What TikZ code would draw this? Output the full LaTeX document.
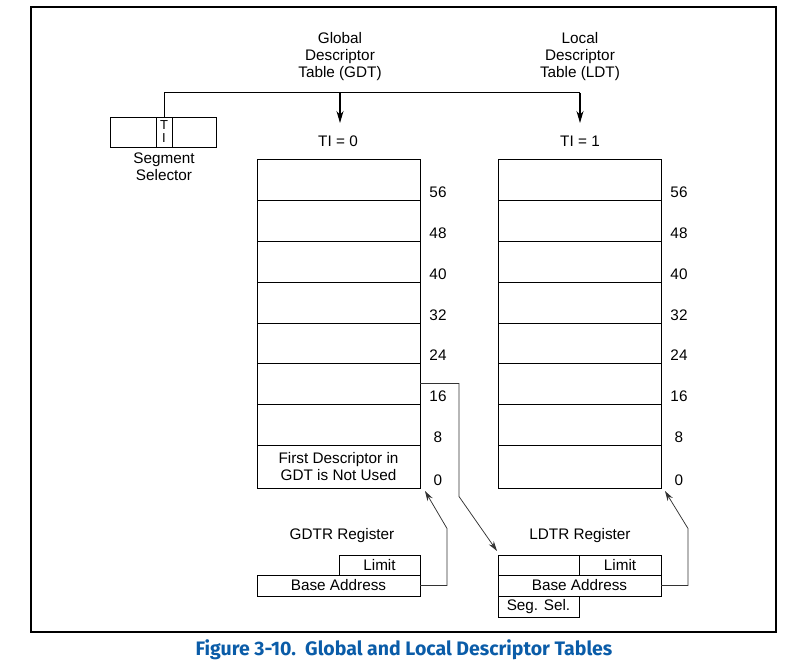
\documentclass[tikz,border=0pt]{standalone}
\usepackage{fontspec}
\setmainfont{Liberation Sans}
\newfontfamily\capfont{Fira Sans}
\usetikzlibrary{arrows.meta,calc}
\definecolor{capblue}{HTML}{0A5CA8}
\begin{document}
\begin{tikzpicture}[x=1pt,y=-1pt,
  every node/.style={font=\fontsize{15.3}{17}\selectfont, inner sep=0pt},
  row/.style={draw, line width=0.9pt, minimum width=163pt, outer sep=0pt},
  regbox/.style={draw, line width=0.9pt, outer sep=0pt},
  num/.style={anchor=center},
  conn/.style={line width=0.75pt, draw=black!80, -{Stealth[length=10pt,width=6pt]}},
  bigarrow/.style={line width=1.1pt, -{Stealth[length=12pt,width=7pt]}},
  title/.style={align=center, font=\fontsize{15.3}{17}\selectfont}]
\useasboundingbox (0,0) rectangle (807,666);
\draw[line width=1.3pt] (31,7) rectangle (776,632);

% titles
\node[title] (gdttitle) at (340,57) {Global\\Descriptor\\Table (GDT)};
\node[title] (ldttitle) at (580,57) {Local\\Descriptor\\Table (LDT)};

% segment selector
\node[regbox, minimum width=46pt, minimum height=30pt] (selL) at (133,132) {};
\node[regbox, minimum width=16pt, minimum height=30pt, align=center, font=\fontsize{13}{13}\selectfont] (ti) at (164,132) {T\\I};
\node[regbox, minimum width=44pt, minimum height=30pt] (selR) at (194,132) {};
\node[title] (segsel) at (164,167) {Segment\\Selector};

\node (ti0) at (338,141) {TI = 0};
\node (ti1) at (580,141) {TI = 1};
\coordinate (corner) at (580,93);
\coordinate (tipg) at (340,123);
\coordinate (tipl) at (580,123);
\draw[line width=1pt] (ti.north) |- (corner);
\draw[bigarrow] (tipg |- corner) -- (tipg);
\draw[bigarrow] (corner) -- (tipl);

% tables
\foreach \n/\y/\h/\v in {7/179.5/41/56, 6/220.5/41/48, 5/261.5/41/40, 4/302.5/41/32, 3/343/40/24, 2/383.5/41/16, 1/424.5/41/8, 0/466.5/43/0} {
  \node[row, minimum height=\h pt] (g\n) at (338.5,\y) {};
  \node[row, minimum height=\h pt] (l\n) at (579.5,\y) {};
  \node[num] at ($(g\n.south east)+(18,-8)$) {\v};
  \node[num] at ($(l\n.south east)+(18,-8)$) {\v};
}
\node[align=center, font=\fontsize{15.3}{17}\selectfont] (unused) at (g0) {First Descriptor in\\GDT is Not Used};

% GDTR
\node (gdtrlbl) at (342,536) {GDTR Register};
\node[regbox, minimum width=81pt, minimum height=20pt] (glimit) at (379.5,565) {Limit};
\node[regbox, minimum width=163pt, minimum height=21pt] (gbase) at (338.5,585.5) {Base Address};

% LDTR
\node (ldtrlbl) at (580,536) {LDTR Register};
\node[regbox, minimum width=81pt, minimum height=20pt] (lblank) at (538.5,565) {};
\node[regbox, minimum width=82pt, minimum height=20pt] (llimit) at (620,565) {Limit};
\node[regbox, minimum width=163pt, minimum height=21pt] (lbase) at (579.5,585.5) {Base Address};
\node[regbox, minimum width=81pt, minimum height=21pt] (lsel) at (538.5,606.5) {Seg. Sel.};

% connectors
\draw[conn] (gbase.east) -- ++(27,0) -- ++(0,-57) -- ($(g0.south east)+(5,3)$);
\draw[conn] (lbase.east) -- ++(27,0) -- ++(0,-57) -- ($(l0.south east)+(4,3)$);
\draw[conn] (g2.east) -- ++(39,0) -- ++(0,113) -- ($(lblank.north west)+(-1,-4)$);

% caption
\node[font=\capfont\bfseries\fontsize{19.5}{22}\selectfont, text=capblue] (caption) at (404,650) {Figure 3-10.\ \ Global and Local Descriptor Tables};
\end{tikzpicture}
\end{document}
